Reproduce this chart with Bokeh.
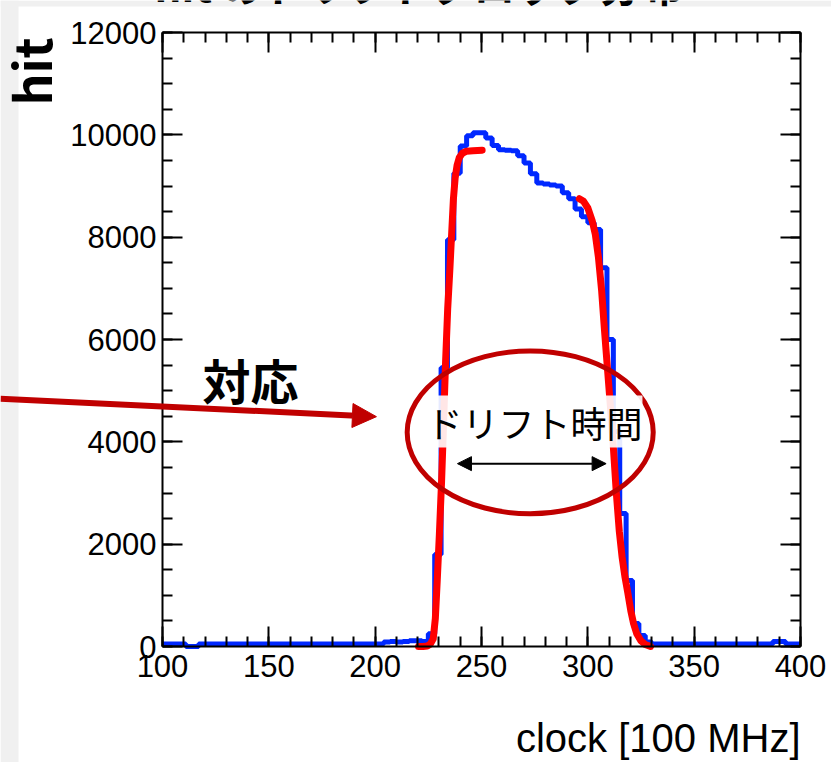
import numpy as np
from bokeh.plotting import figure
from bokeh.models import (Range1d, LinearAxis, FixedTicker, Label, Arrow,
                          NormalHead, BoxAnnotation, CustomJSTickFormatter)
from bokeh.embed import file_html
from bokeh.resources import INLINE

# ---- data -------------------------------------------------------------
# hit counts per clock bin (3-clock bins, first bin starts at clock 99)
bin_start = 99
bin_width = 3
hits = (
    [50, 50, 50, 50, 0, 0, 50]                      # 99 - 120
    + [50] * 28                                      # 120 - 204
    + [90, 100, 90, 100, 110, 110, 100, 250,         # 204 - 228
       1800, 5450, 7950, 9250, 9780, 9980, 10040,    # 228 - 249
       10040, 9940, 9790, 9710, 9700, 9690, 9590,    # 249 - 270
       9450, 9240, 9060, 9040, 9020, 9000, 8870,     # 270 - 291
       8750, 8550, 8400, 8280, 8150, 7400, 6000,     # 291 - 312
       4200, 2600, 1290, 450, 215, 90]               # 312 - 330
    + [50] * 19                                      # 330 - 387
    + [100, 100, 50, 50, 50]                         # 387 - 402
)

# fitted leading edge
rise_clock = [220.4, 222.5, 224.5, 226.0, 227.3, 228.3, 229.2, 230.2, 231.2,
              232.2, 233.1, 234.1, 235.1, 236.0, 236.8, 237.6, 238.5, 239.5,
              241.0, 243.0, 246.0, 250.3]
rise_hits = [0, 0, 10, 50, 150, 550, 1300, 2200, 3200,
             4400, 5550, 6600, 7350, 8100, 8750, 9150, 9400, 9550,
             9640, 9680, 9690, 9700]

# fitted trailing edge
fall_clock = [296.0, 298.0, 300.0, 302.0, 303.5, 305.0, 306.5, 307.8, 309.2,
              310.6, 312.0, 313.4, 314.8, 316.1, 317.5, 318.8, 320.2, 321.5,
              323.0, 325.0, 327.0, 329.5]
fall_hits = [8750, 8700, 8570, 8330, 8060, 7600, 6950, 6200, 5450,
             4700, 3900, 3000, 2250, 1750, 1350, 1050, 700, 450,
             250, 110, 40, 0]

x_tick_values = [100, 150, 200, 250, 300, 350, 400]
y_tick_values = [0, 2000, 4000, 6000, 8000, 10000, 12000]

# ---- page geometry ----------------------------------------------------
W, H = 831, 762
X_MIN, X_MAX = 100, 400
Y_MIN, Y_MAX = 0, 12000
box_left, box_right, box_top, box_bottom = 162, 800, 32, 646   # pixels

kx = (box_right - box_left) / (X_MAX - X_MIN)
ky = (box_bottom - box_top) / (Y_MAX - Y_MIN)
x_lo = X_MIN - box_left / kx
x_hi = x_lo + W / kx
y_hi = Y_MAX + box_top / ky
y_lo = y_hi - H / ky


def px_x(px):
    return x_lo + px / kx


def px_y(py):
    return y_hi - py / ky


# the canvas is one big frame; the axes sit at fixed positions inside it
p = figure(width=W, height=H, output_backend="svg", toolbar_location=None,
           x_range=Range1d(x_lo, x_hi), y_range=Range1d(y_lo, y_hi),
           x_axis_location=None, y_axis_location=None, min_border=0)
p.xgrid.visible = False
p.ygrid.visible = False
p.background_fill_color = "white"
p.border_fill_color = "white"
p.outline_line_color = None

x_ticker = FixedTicker(ticks=x_tick_values,
                       minor_ticks=list(np.arange(X_MIN, X_MAX + 1, 10)))
y_ticker = FixedTicker(ticks=y_tick_values,
                       minor_ticks=list(np.arange(Y_MIN, Y_MAX + 1, 500)))
blank = CustomJSTickFormatter(code="return ''")


def make_axis(ticker, location, bounds, show_labels):
    ax = LinearAxis(ticker=ticker, fixed_location=location, bounds=bounds)
    ax.axis_line_width = 2
    ax.axis_line_color = "black"
    ax.major_tick_line_width = 2
    ax.minor_tick_line_width = 2
    ax.major_tick_in = 20
    ax.major_tick_out = 0
    ax.minor_tick_in = 10
    ax.minor_tick_out = 0
    ax.major_label_text_font = "Liberation Sans"
    ax.major_label_text_font_size = "31px"
    ax.major_label_text_color = "black"
    if not show_labels:
        ax.formatter = blank
    return ax


xb = make_axis(x_ticker, Y_MIN, (X_MIN, X_MAX), True)
xb.major_label_standoff = 8
p.add_layout(xb, "below")

yl = make_axis(y_ticker, X_MIN, (Y_MIN, Y_MAX), True)
yl.major_label_standoff = 6
p.add_layout(yl, "left")

p.add_layout(make_axis(x_ticker, Y_MAX, (X_MIN, X_MAX), False), "above")
p.add_layout(make_axis(y_ticker, X_MAX, (Y_MIN, Y_MAX), False), "right")

# light grey page edges
grey = "#f0f0f0"
p.add_layout(BoxAnnotation(left=px_x(0), right=px_x(18), bottom=y_lo, top=y_hi,
                           fill_color=grey, fill_alpha=1, line_alpha=0,
                           level="underlay"))
p.add_layout(BoxAnnotation(left=px_x(0), right=x_hi, bottom=px_y(6), top=y_hi,
                           fill_color=grey, fill_alpha=1, line_alpha=0,
                           level="underlay"))

# ---- histogram and fits -----------------------------------------------
edges = np.clip(bin_start + bin_width * np.arange(len(hits) + 1), X_MIN, X_MAX)
p.step(x=edges, y=hits + [hits[-1]], mode="after",
       line_color="#0028ff", line_width=5)
p.line(rise_clock, rise_hits, line_color="#ff0000", line_width=7,
       line_cap="round", line_join="round")
p.line(fall_clock, fall_hits, line_color="#ff0000", line_width=7,
       line_cap="round", line_join="round")

# drift-time window marker
p.ellipse(x=[272.9], y=[4186], width=[115.7], height=[3184],
          fill_alpha=0, line_color="#c00000", line_width=5)

# ---- texts ------------------------------------------------------------
jp = "Noto Sans CJK JP"
p.add_layout(Label(x=px_x(154), y=px_y(-17), text="hit のドリフトクロック分布",
                   text_font=jp, text_font_size="42px", text_font_style="bold",
                   text_align="left", text_baseline="alphabetic",
                   text_color="black"))
p.add_layout(Label(x=px_x(29), y=px_y(71), text="hit", angle=np.pi / 2,
                   text_font=jp, text_font_size="50px", text_font_style="bold",
                   text_align="center", text_baseline="alphabetic",
                   text_color="black"))
p.add_layout(Label(x=X_MAX, y=px_y(737), text="clock [100 MHz]",
                   text_font="Liberation Sans", text_font_size="40px",
                   text_align="right", text_baseline="alphabetic",
                   text_color="black"))
p.add_layout(Label(x=141.4, y=5225, text="対応",
                   text_font=jp, text_font_size="48px", text_font_style="bold",
                   text_align="center", text_baseline="middle",
                   text_color="black"))
p.add_layout(Label(x=274.9, y=4395, text="ドリフト時間",
                   text_font=jp, text_font_size="36px",
                   text_align="center", text_baseline="middle",
                   text_color="black",
                   background_fill_color="white", background_fill_alpha=0.9))

# arrows
p.add_layout(Arrow(x_start=238.7, y_start=3574, x_end=308.6, y_end=3574,
                   line_color="black", line_width=2,
                   start=NormalHead(size=14, fill_color="black", line_color="black"),
                   end=NormalHead(size=14, fill_color="black", line_color="black")))
p.add_layout(Arrow(x_start=px_x(0), y_start=4844, x_end=200.6, y_end=4492,
                   line_color="#c00000", line_width=6,
                   end=NormalHead(size=24, fill_color="#c00000",
                                  line_color="#c00000")))

open("out.html", "w").write(file_html(p, INLINE))
